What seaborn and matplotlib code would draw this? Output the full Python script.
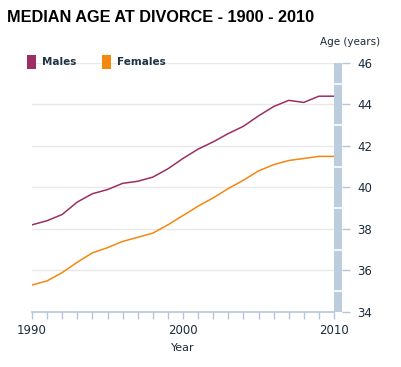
import matplotlib
matplotlib.use("Agg")
import matplotlib.pyplot as plt
from matplotlib.patches import Rectangle
from matplotlib.ticker import MultipleLocator, FixedLocator
import pandas as pd
import seaborn as sns

years = list(range(1990, 2011))
males = [38.2, 38.4, 38.7, 39.3, 39.7, 39.9, 40.2, 40.3, 40.5, 40.9, 41.4,
         41.85, 42.2, 42.6, 42.95, 43.45, 43.9, 44.2, 44.1, 44.4, 44.4]
females = [35.3, 35.5, 35.9, 36.4, 36.85, 37.1, 37.4, 37.6, 37.8, 38.2, 38.65,
           39.1, 39.5, 39.95, 40.35, 40.8, 41.1, 41.3, 41.4, 41.5, 41.5]
series_names = ["Males", "Females"]
colors = ["#9b2f64", "#f5870f"]
x_labels = [1990, 2000, 2010]
y_ticks = [34, 36, 38, 40, 42, 44, 46]

df = pd.DataFrame({
    "Year": years * 2,
    "Age": males + females,
    "Sex": ["Males"] * len(years) + ["Females"] * len(years),
})

sns.set_theme(style="white")
plt.rcParams["font.family"] = ["DejaVu Sans"]

W, H = 402, 367
fig = plt.figure(figsize=(W / 100, H / 100), dpi=100)
fig.patch.set_facecolor("white")

text_col = "#1b2b3b"
axis_col = "#b4c6d8"
bar_col = "#bccddd"

left, right, bottom_px, top_px = 32, 334, 312, 63
ax = fig.add_axes([left / W, (H - bottom_px) / H, (right - left) / W, (bottom_px - top_px) / H])

sns.lineplot(data=df, x="Year", y="Age", hue="Sex", hue_order=series_names,
             palette=colors, linewidth=1.1, legend=False, ax=ax)

ax.set_xlim(1990, 2010)
ax.set_ylim(34, 46)
for v in y_ticks[1:]:
    ax.axhline(v, color="#e8e8e8", lw=1, zorder=0)
for s in ["top", "right", "left"]:
    ax.spines[s].set_visible(False)
ax.spines["bottom"].set_color(axis_col)
ax.spines["bottom"].set_linewidth(1.2)
ax.set_yticks([])
ax.xaxis.set_major_locator(FixedLocator(x_labels))
ax.xaxis.set_minor_locator(MultipleLocator(1))
ax.tick_params(axis="x", which="both", direction="out", length=5, width=1,
               color=axis_col, bottom=True, labelsize=8.5, labelcolor=text_col, pad=4)
ax.set_xlabel("Year", fontsize=8, color=text_col, labelpad=4)
ax.set_ylabel("")

# blue bar on the right carrying the age axis
bar = fig.add_axes([right / W, (H - bottom_px) / H, 8 / W, (bottom_px - top_px) / H])
bar.set_facecolor(bar_col)
bar.set_xlim(0, 1)
bar.set_ylim(34, 46)
for v in range(35, 46, 2):
    bar.axhline(v, color="white", lw=1.2)
for s in bar.spines.values():
    s.set_visible(False)
bar.set_xticks([])
bar.yaxis.tick_right()
bar.set_yticks(y_ticks)
bar.tick_params(axis="y", right=True, left=False, direction="out", length=6, width=1,
                color=axis_col, labelsize=8.5, labelcolor=text_col, pad=5)

fig.text(380 / W, 1 - 42 / H, "Age (years)", ha="right", va="center",
         fontsize=7.5, color=text_col)

fig.text(7 / W, 1 - 18 / H, "MEDIAN AGE AT DIVORCE - 1900 - 2010", ha="left", va="center",
         fontsize=11.7, fontweight="bold", color="black", family=["Liberation Sans"])

# legend
for name, col, x0 in zip(series_names, colors, [27, 102]):
    fig.patches.append(Rectangle((x0 / W, 1 - 69 / H), 9 / W, 14 / H,
                                 transform=fig.transFigure, facecolor=col,
                                 edgecolor="none"))
    fig.text((x0 + 15) / W, 1 - 62 / H, name, ha="left", va="center",
             fontsize=7.5, fontweight="bold", color="#1f3347")

fig.savefig("out.png", dpi=100)
